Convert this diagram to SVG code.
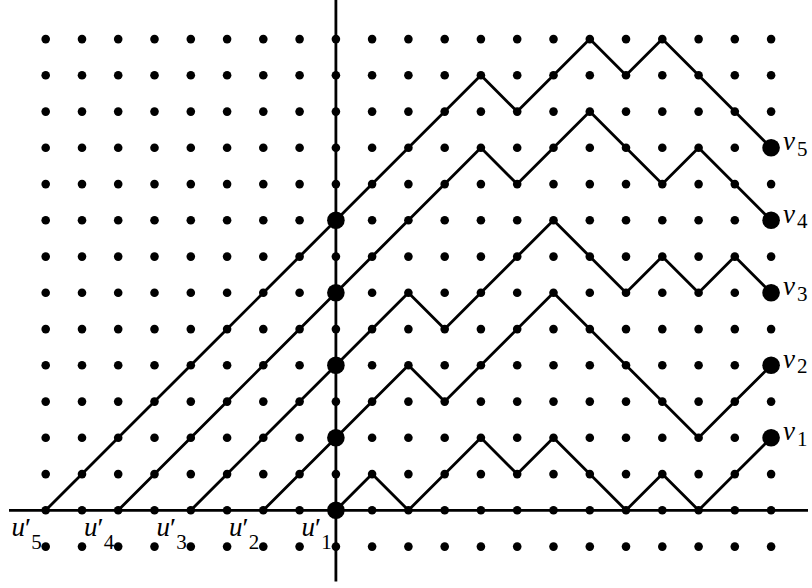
<svg xmlns="http://www.w3.org/2000/svg" xmlns:xlink="http://www.w3.org/1999/xlink" width="812" height="588" viewBox="0 0 812 588">
<style>
.dot{fill:#000}
.big{fill:#000}
.axis{stroke:#000;stroke-width:2.8;fill:none}
.path{stroke:#000;stroke-width:2.8;fill:none;stroke-linejoin:miter}
.m{font-family:"Liberation Serif","DejaVu Serif",serif;font-style:italic;font-size:27px;fill:#000}
.p{font-family:"Liberation Serif","DejaVu Serif",serif;font-style:normal;font-size:28px}
.s{font-family:"Liberation Serif","DejaVu Serif",serif;font-style:normal;font-size:21px}
</style>
<defs>
<g id="row">
<circle class="dot" cx="45.7" cy="0" r="4.3"/><circle class="dot" cx="82.0" cy="0" r="4.3"/><circle class="dot" cx="118.2" cy="0" r="4.3"/><circle class="dot" cx="154.5" cy="0" r="4.3"/><circle class="dot" cx="190.8" cy="0" r="4.3"/><circle class="dot" cx="227.1" cy="0" r="4.3"/><circle class="dot" cx="263.3" cy="0" r="4.3"/><circle class="dot" cx="299.6" cy="0" r="4.3"/><circle class="dot" cx="335.9" cy="0" r="4.3"/><circle class="dot" cx="372.1" cy="0" r="4.3"/><circle class="dot" cx="408.4" cy="0" r="4.3"/><circle class="dot" cx="444.7" cy="0" r="4.3"/><circle class="dot" cx="480.9" cy="0" r="4.3"/><circle class="dot" cx="517.2" cy="0" r="4.3"/><circle class="dot" cx="553.5" cy="0" r="4.3"/><circle class="dot" cx="589.8" cy="0" r="4.3"/><circle class="dot" cx="626.0" cy="0" r="4.3"/><circle class="dot" cx="662.3" cy="0" r="4.3"/><circle class="dot" cx="698.6" cy="0" r="4.3"/><circle class="dot" cx="734.8" cy="0" r="4.3"/><circle class="dot" cx="771.1" cy="0" r="4.3"/>
</g>
</defs>
<rect width="812" height="588" fill="#fff"/>
<g id="grid">
<use xlink:href="#row" href="#row" y="39.1"/>
<use xlink:href="#row" href="#row" y="75.3"/>
<use xlink:href="#row" href="#row" y="111.6"/>
<use xlink:href="#row" href="#row" y="147.8"/>
<use xlink:href="#row" href="#row" y="184.1"/>
<use xlink:href="#row" href="#row" y="220.3"/>
<use xlink:href="#row" href="#row" y="256.6"/>
<use xlink:href="#row" href="#row" y="292.8"/>
<use xlink:href="#row" href="#row" y="329.1"/>
<use xlink:href="#row" href="#row" y="365.3"/>
<use xlink:href="#row" href="#row" y="401.6"/>
<use xlink:href="#row" href="#row" y="437.8"/>
<use xlink:href="#row" href="#row" y="474.1"/>
<use xlink:href="#row" href="#row" y="510.3"/>
<use xlink:href="#row" href="#row" y="546.6"/>
</g>
<g id="axes">
<line class="axis" x1="9" y1="510.3" x2="808" y2="510.3"/>
<line class="axis" x1="335.9" y1="0" x2="335.9" y2="581.5"/>
</g>
<g id="connectors">
<polyline class="path" points="335.9,510.3 372.1,474.1 408.4,510.3 444.7,474.1 480.9,437.8 517.2,474.1 553.5,437.8 589.8,474.1 626.0,510.3 662.3,474.1 698.6,510.3 734.8,474.1 771.1,437.8"/>
<polyline class="path" points="263.3,510.3 299.6,474.1 335.9,437.8 372.1,401.6 408.4,365.3 444.7,401.6 480.9,365.3 517.2,329.1 553.5,292.8 589.8,329.1 626.0,365.3 662.3,401.6 698.6,437.8 734.8,401.6 771.1,365.3"/>
<polyline class="path" points="190.8,510.3 227.1,474.1 263.3,437.8 299.6,401.6 335.9,365.3 372.1,329.1 408.4,292.8 444.7,329.1 480.9,292.8 517.2,256.6 553.5,220.3 589.8,256.6 626.0,292.8 662.3,256.6 698.6,292.8 734.8,256.6 771.1,292.8"/>
<polyline class="path" points="118.2,510.3 154.5,474.1 190.8,437.8 227.1,401.6 263.3,365.3 299.6,329.1 335.9,292.8 372.1,256.6 408.4,220.3 444.7,184.1 480.9,147.8 517.2,184.1 553.5,147.8 589.8,111.6 626.0,147.8 662.3,184.1 698.6,147.8 734.8,184.1 771.1,220.3"/>
<polyline class="path" points="45.7,510.3 82.0,474.1 118.2,437.8 154.5,401.6 190.8,365.3 227.1,329.1 263.3,292.8 299.6,256.6 335.9,220.3 372.1,184.1 408.4,147.8 444.7,111.6 480.9,75.3 517.2,111.6 553.5,75.3 589.8,39.1 626.0,75.3 662.3,39.1 698.6,75.3 734.8,111.6 771.1,147.8"/>
</g>
<g id="axis-points">
<circle class="big" cx="335.9" cy="510.3" r="8.8"/>
<circle class="big" cx="335.9" cy="437.8" r="8.8"/>
<circle class="big" cx="335.9" cy="365.3" r="8.8"/>
<circle class="big" cx="335.9" cy="292.8" r="8.8"/>
<circle class="big" cx="335.9" cy="220.3" r="8.8"/>
</g>
<g id="u5"><text class="m" x="11.5" y="536">u<tspan class="p" y="537">′</tspan><tspan class="s" y="549">5</tspan></text></g>
<g id="u4"><text class="m" x="84" y="536">u<tspan class="p" y="537">′</tspan><tspan class="s" y="549">4</tspan></text></g>
<g id="u3"><text class="m" x="156.5" y="536">u<tspan class="p" y="537">′</tspan><tspan class="s" y="549">3</tspan></text></g>
<g id="u2"><text class="m" x="229" y="536">u<tspan class="p" y="537">′</tspan><tspan class="s" y="549">2</tspan></text></g>
<g id="u1"><text class="m" x="301.5" y="536">u<tspan class="p" y="537">′</tspan><tspan class="s" y="549">1</tspan></text></g>
<g id="v1"><circle class="big" cx="771.1" cy="437.8" r="8.8"/><text class="m" x="783" y="440">v<tspan class="s" dx="2" y="445.5">1</tspan></text></g>
<g id="v2"><circle class="big" cx="771.1" cy="365.3" r="8.8"/><text class="m" x="783" y="367.5">v<tspan class="s" dx="2" y="373">2</tspan></text></g>
<g id="v3"><circle class="big" cx="771.1" cy="292.8" r="8.8"/><text class="m" x="783" y="295">v<tspan class="s" dx="2" y="300.5">3</tspan></text></g>
<g id="v4"><circle class="big" cx="771.1" cy="220.3" r="8.8"/><text class="m" x="783" y="222.5">v<tspan class="s" dx="2" y="228">4</tspan></text></g>
<g id="v5"><circle class="big" cx="771.1" cy="147.8" r="8.8"/><text class="m" x="783" y="150">v<tspan class="s" dx="2" y="155.5">5</tspan></text></g>
</svg>
